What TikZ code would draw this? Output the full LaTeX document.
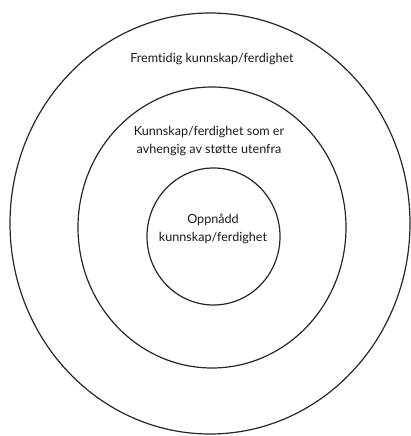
\documentclass[tikz,border=0pt]{standalone}
\usepackage{fontspec}
\setmainfont{Lato}[Ligatures=NoCommon]
\usetikzlibrary{shapes.geometric}
\begin{document}
\begin{tikzpicture}[x=1pt,y=-1pt,
  ring/.style={ellipse,draw=black!85,line width=1.2pt,inner sep=0pt},
  lbl/.style={align=center,font=\fontsize{12.6}{17.5}\selectfont,text=black!90,inner sep=0pt}]
\useasboundingbox (0,0) rectangle (411,436);
\node[ring,minimum width=400pt,minimum height=421pt] (outer) at (210,223.5) {};
\node[ring,minimum width=268pt,minimum height=281pt] (middle) at (212,227.5) {};
\node[ring,minimum width=133pt,minimum height=137pt] (inner) at (213.5,236.5) {};
\node[lbl,anchor=base] (t1) at (212,63) {Fremtidig kunnskap/ferdighet};
\node[lbl] (t2) at (209,141) {Kunnskap/ferdighet som er\\avhengig av støtte utenfra};
\node[lbl] (t3) at (213,229) {Oppnådd\\kunnskap/ferdighet};
\end{tikzpicture}
\end{document}
